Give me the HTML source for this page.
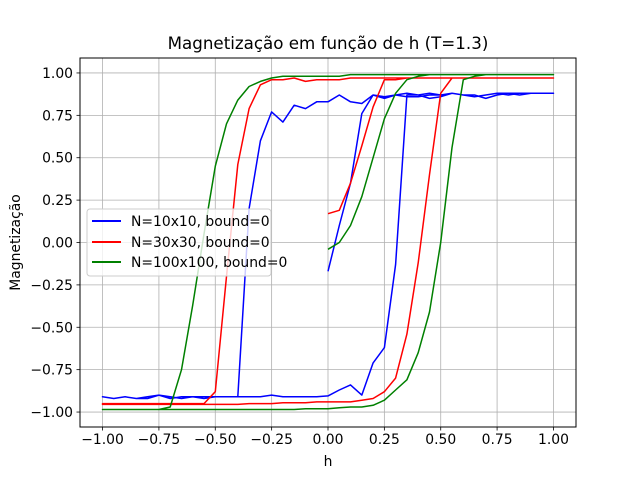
<!DOCTYPE html>
<html><head><meta charset="utf-8"><style>
body{margin:0;background:#fff;}
svg{display:block;font-family:"DejaVu Sans","Liberation Sans",sans-serif;}
</style></head><body>
<svg id="chart" width="640" height="480" viewBox="0 0 640 480" xmlns="http://www.w3.org/2000/svg">
<rect width="640" height="480" fill="#fff"/>
<text x="328" y="49" font-size="16.7" text-anchor="middle">Magnetização em função de h (T=1.3)</text>
<g id="grid"></g>
<g id="series"></g>
<rect x="80" y="58" width="496" height="369" fill="none" stroke="#000" stroke-width="1"/>
<g id="ticks"></g>
<text x="328" y="466" font-size="13.9" text-anchor="middle">h</text>
<text transform="translate(20,242.5) rotate(-90)" font-size="13.9" text-anchor="middle">Magnetização</text>
<g id="legend">
<rect x="87" y="209" width="184" height="67" rx="3" fill="#fff" fill-opacity="0.8" stroke="#ccc"/>
<line x1="92" y1="221" x2="121" y2="221" stroke="blue" stroke-width="2"/>
<text x="131" y="226" font-size="13.9">N=10x10, bound=0</text>
<line x1="92" y1="242" x2="121" y2="242" stroke="red" stroke-width="2"/>
<text x="131" y="247" font-size="13.9">N=30x30, bound=0</text>
<line x1="92" y1="262" x2="121" y2="262" stroke="green" stroke-width="2"/>
<text x="131" y="267" font-size="13.9">N=100x100, bound=0</text>
</g>
</svg>
<script>
const hInit=[0,0.05,0.1,0.15,0.2,0.25,0.3,0.35,0.4,0.45,0.5,0.55,0.6,0.65,0.7,0.75,0.8,0.85,0.9,0.95,1];
const hDesc=[1,0.95,0.9,0.85,0.8,0.75,0.7,0.65,0.6,0.55,0.5,0.45,0.4,0.35,0.3,0.25,0.2,0.15,0.1,0.05,0,-0.05,-0.1,-0.15,-0.2,-0.25,-0.3,-0.35,-0.4,-0.45,-0.5,-0.55,-0.6,-0.65,-0.7,-0.75,-0.8,-0.85,-0.9,-0.95,-1];
const hAsc=[-1,-0.95,-0.9,-0.85,-0.8,-0.75,-0.7,-0.65,-0.6,-0.55,-0.5,-0.45,-0.4,-0.35,-0.3,-0.25,-0.2,-0.15,-0.1,-0.05,0,0.05,0.1,0.15,0.2,0.25,0.3,0.35,0.4,0.45,0.5,0.55,0.6,0.65,0.7,0.75,0.8,0.85,0.9,0.95,1];
const xTicks=[-1,-0.75,-0.5,-0.25,0,0.25,0.5,0.75,1];
const xTickLabels=["−1.00","−0.75","−0.50","−0.25","0.00","0.25","0.50","0.75","1.00"];
const yTicks=[-1,-0.75,-0.5,-0.25,0,0.25,0.5,0.75,1];
const yTickLabels=["−1.00","−0.75","−0.50","−0.25","0.00","0.25","0.50","0.75","1.00"];
const seriesNames=["n10","n30","n100"];
const seriesColors=["blue","red","green"];
const n10Init=[-0.17,0.1,0.35,0.76,0.87,0.85,0.87,0.88,0.87,0.88,0.87,0.88,0.87,0.86,0.87,0.88,0.88,0.87,0.88,0.88,0.88];
const n10Desc=[0.88,0.88,0.88,0.88,0.87,0.88,0.87,0.86,0.87,0.88,0.87,0.87,0.86,0.86,0.87,0.86,0.87,0.82,0.83,0.87,0.83,0.83,0.79,0.81,0.71,0.77,0.60,0.2,-0.91,-0.91,-0.91,-0.92,-0.91,-0.92,-0.91,-0.90,-0.92,-0.92,-0.91,-0.92,-0.91];
const n10Asc=[-0.91,-0.92,-0.91,-0.92,-0.91,-0.90,-0.92,-0.91,-0.91,-0.91,-0.91,-0.91,-0.91,-0.91,-0.91,-0.90,-0.91,-0.91,-0.91,-0.91,-0.905,-0.87,-0.84,-0.90,-0.71,-0.62,-0.13,0.87,0.87,0.85,0.86,0.88,0.87,0.87,0.85,0.87,0.88,0.88,0.88,0.88,0.88];
const n30Init=[0.17,0.19,0.35,0.57,0.80,0.96,0.96,0.97,0.97,0.97,0.97,0.97,0.97,0.97,0.97,0.97,0.97,0.97,0.97,0.97,0.97];
const n30Desc=[0.97,0.97,0.97,0.97,0.97,0.97,0.97,0.97,0.97,0.97,0.97,0.97,0.97,0.97,0.97,0.97,0.97,0.97,0.97,0.96,0.96,0.96,0.95,0.97,0.96,0.96,0.93,0.79,0.46,-0.2,-0.88,-0.95,-0.95,-0.95,-0.95,-0.95,-0.95,-0.95,-0.95,-0.95,-0.95];
const n30Asc=[-0.955,-0.955,-0.955,-0.955,-0.955,-0.955,-0.955,-0.955,-0.955,-0.955,-0.955,-0.955,-0.955,-0.95,-0.95,-0.95,-0.945,-0.945,-0.945,-0.94,-0.94,-0.94,-0.94,-0.93,-0.92,-0.88,-0.80,-0.54,-0.12,0.4,0.88,0.97,0.97,0.97,0.97,0.97,0.97,0.97,0.97,0.97,0.97];
const n100Init=[-0.04,0.0,0.1,0.27,0.5,0.73,0.88,0.96,0.98,0.99,0.99,0.99,0.99,0.99,0.99,0.99,0.99,0.99,0.99,0.99,0.99];
const n100Desc=[0.99,0.99,0.99,0.99,0.99,0.99,0.99,0.99,0.99,0.99,0.99,0.99,0.99,0.99,0.99,0.99,0.99,0.99,0.99,0.98,0.98,0.98,0.98,0.98,0.98,0.97,0.95,0.92,0.84,0.70,0.45,0.05,-0.37,-0.75,-0.97,-0.985,-0.985,-0.985,-0.985,-0.985,-0.985];
const n100Asc=[-0.985,-0.985,-0.985,-0.985,-0.985,-0.985,-0.985,-0.985,-0.985,-0.985,-0.985,-0.985,-0.985,-0.985,-0.985,-0.985,-0.985,-0.985,-0.98,-0.98,-0.98,-0.975,-0.97,-0.97,-0.96,-0.93,-0.87,-0.81,-0.65,-0.41,0.0,0.56,0.96,0.98,0.99,0.99,0.99,0.99,0.99,0.99,0.99];
const seriesData=[[n10Init,n10Desc,n10Asc],[n30Init,n30Desc,n30Asc],[n100Init,n100Desc,n100Asc]];
const hBranches=[hInit,hDesc,hAsc];

const NS="http://www.w3.org/2000/svg";
const X0=80,X1=576,Y0=58,Y1=427;
const xMin=-1.1,xMax=1.1,yMin=-1.0882,yMax=1.0882;
function sx(v){return X0+(v-xMin)/(xMax-xMin)*(X1-X0);}
function sy(v){return Y1-(v-yMin)/(yMax-yMin)*(Y1-Y0);}
function mk(tag,attrs,parent){const e=document.createElementNS(NS,tag);for(const k in attrs)e.setAttribute(k,attrs[k]);parent.appendChild(e);return e;}
const grid=document.getElementById('grid'),ticks=document.getElementById('ticks'),ser=document.getElementById('series');
xTicks.forEach((t,i)=>{
  const x=sx(t);
  const g=mk('line',{x1:x,y1:Y0,x2:x,y2:Y1,stroke:'#b0b0b0','stroke-width':0.8},grid);
  
  
  mk('line',{x1:x,y1:Y1,x2:x,y2:Y1+3.5,stroke:'#000','stroke-width':0.8},ticks);
  const tx=mk('text',{x:x,y:Y1+17,'font-size':13.9,'text-anchor':'middle'},ticks);
  tx.textContent=xTickLabels[i];
  
  
});
yTicks.forEach((t,i)=>{
  const y=sy(t);
  const g=mk('line',{x1:X0,y1:y,x2:X1,y2:y,stroke:'#b0b0b0','stroke-width':0.8},grid);
  
  
  mk('line',{x1:X0-3.5,y1:y,x2:X0,y2:y,stroke:'#000','stroke-width':0.8},ticks);
  const tx=mk('text',{x:X0-7,y:y+5,'font-size':13.9,'text-anchor':'end'},ticks);
  tx.textContent=yTickLabels[i];
  
  
});
seriesData.forEach((branches,si)=>{
  let pts=[];
  branches.forEach((vals,bi)=>{vals.forEach((v,j)=>{pts.push(sx(hBranches[bi][j]).toFixed(1)+','+sy(v).toFixed(1));});});
  const p=mk('polyline',{points:pts.join(' '),fill:'none',stroke:seriesColors[si],'stroke-width':1.5,'stroke-linejoin':'round'},ser);
  
  
});
</script>
</body></html>
